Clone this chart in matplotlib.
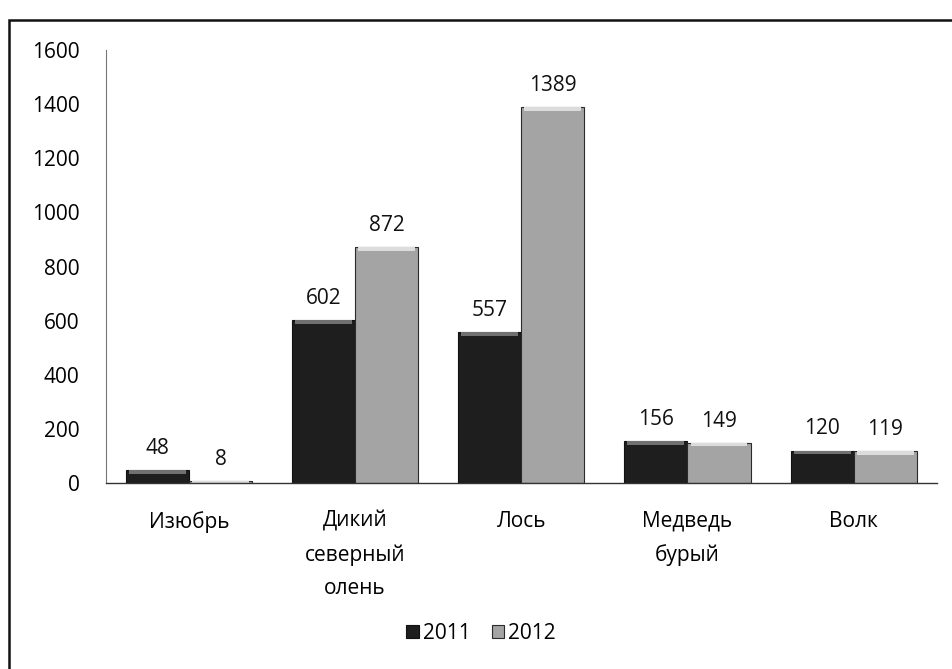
import numpy as np
import matplotlib.pyplot as plt
from matplotlib.patches import Rectangle

plt.rcParams['font.family'] = ['Open Sans', 'DejaVu Sans']

categories = ["Изюбрь", "Дикий\nсеверный\nолень", "Лось", "Медведь\nбурый", "Волк"]
values_2011 = [48, 602, 557, 156, 120]
values_2012 = [8, 872, 1389, 149, 119]
years = ["2011", "2012"]

fig = plt.figure(figsize=(9.53, 6.69), dpi=100)
ax = fig.add_axes([0.111, 0.278, 0.872, 0.647])

x = np.arange(len(categories))
w = 0.38

b1 = ax.bar(x - w / 2, values_2011, w, color="#1e1e1e", edgecolor="#111111",
            linewidth=0.8, label=years[0])
b2 = ax.bar(x + w / 2, values_2012, w, color="#a4a4a4", edgecolor="#2a2a2a",
            linewidth=0.8, label=years[1])

# light rim at the top of each bar (imitates the bevel)
cap = 14
ax.bar(x - w / 2, [min(cap, v) for v in values_2011], w * 0.9,
       bottom=[v - min(cap, v) for v in values_2011], color="#707070", linewidth=0)
ax.bar(x + w / 2, [min(cap, v) for v in values_2012], w * 0.9,
       bottom=[v - min(cap, v) for v in values_2012], color="#dcdcdc", linewidth=0)

for bars, vals in ((b1, values_2011), (b2, values_2012)):
    for r, v in zip(bars, vals):
        ax.annotate(str(v), (r.get_x() + r.get_width() / 2, v), xytext=(0, 8),
                    textcoords="offset points", ha="center", va="bottom",
                    fontsize=15, color="#111111")

ax.set_xlim(-0.5, len(categories) - 0.5)
ax.set_ylim(0, 1600)
ax.set_yticks(range(0, 1601, 200))
ax.set_xticks(x)
ax.set_xticklabels(categories, fontsize=15, linespacing=1.75, va="top")
ax.tick_params(axis="y", labelsize=15, length=0, pad=19)
ax.tick_params(axis="x", length=0, pad=20)

for s in ("top", "right"):
    ax.spines[s].set_visible(False)
ax.spines["left"].set_color("#777777")
ax.spines["left"].set_linewidth(0.8)
ax.spines["bottom"].set_color("#333333")
ax.spines["bottom"].set_linewidth(1.0)

fig.legend(handles=[b1, b2], labels=years, loc="center", bbox_to_anchor=(0.505, 0.053),
           ncol=2, frameon=False, fontsize=15, handlelength=0.6, handleheight=0.6,
           handletextpad=0.2, columnspacing=1.0)

# outer frame of the scanned chart
fig.patches.append(Rectangle((0.009, -0.05), 1.1, 0.05 + 1 - 0.03,
                             transform=fig.transFigure, fill=False,
                             edgecolor="#111111", linewidth=1.8))

fig.savefig("out.png", dpi=100, facecolor="white")
